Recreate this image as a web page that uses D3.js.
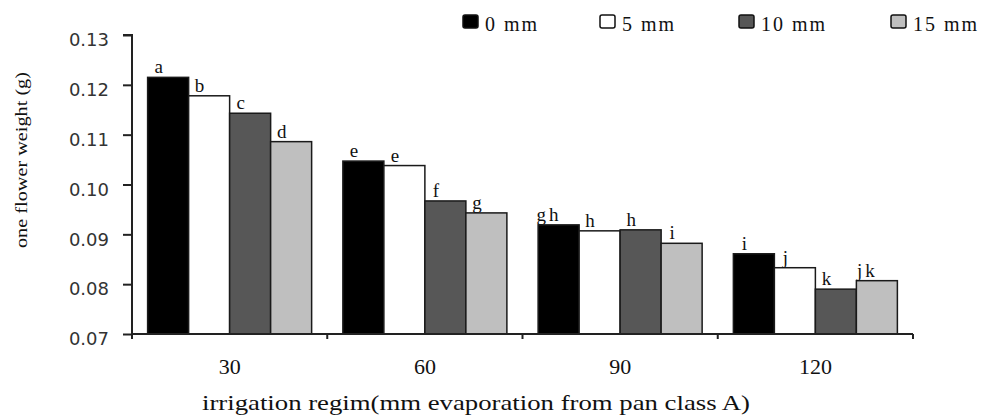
<!DOCTYPE html>
<html>
<head>
<meta charset="utf-8">
<script src="https://cdn.jsdelivr.net/npm/d3@7"></script>
<style>
  body { margin: 0; background: #fff; }
  svg { display: block; }
</style>
</head>
<body>
<svg id="chart" width="984" height="416"></svg>
<script>
// data
const categories = ["30", "60", "90", "120"];
const series = ["0 mm", "5 mm", "10 mm", "15 mm"];
const values0 = [0.1215, 0.1047, 0.0919, 0.0861];
const values5 = [0.1178, 0.1038, 0.0907, 0.0833];
const values10 = [0.1143, 0.0967, 0.0909, 0.0790];
const values15 = [0.1086, 0.0943, 0.0882, 0.0807];
const letters0 = ["a", "e", "gh", "i"];
const letters5 = ["b", "e", "h", "j"];
const letters10 = ["c", "f", "h", "k"];
const letters15 = ["d", "g", "i", "jk"];
const yTicks = [0.07, 0.08, 0.09, 0.10, 0.11, 0.12, 0.13];

const colors = ["#000000", "#ffffff", "#575757", "#bfbfbf"];
const allValues = [values0, values5, values10, values15];
const allLetters = [letters0, letters5, letters10, letters15];

const svg = d3.select("#chart");
const plotL = 132, plotR = 913, plotT = 35, plotB = 334;

const x = d3.scaleBand()
  .domain(categories)
  .range([plotL, plotR])
  .paddingInner(0.16)
  .paddingOuter(0.08);

const xs = d3.scaleBand()
  .domain(series)
  .range([0, x.bandwidth()]);

const y = d3.scaleLinear()
  .domain([0.07, 0.13])
  .range([plotB, plotT]);

// rows: one per bar
const rows = [];
categories.forEach((c, i) => {
  series.forEach((s, j) => {
    rows.push({cat: c, ser: s, j: j, v: allValues[j][i], lab: allLetters[j][i]});
  });
});

// bars
svg.append("g")
  .selectAll("rect")
  .data(rows)
  .join("rect")
    .attr("x", d => x(d.cat) + xs(d.ser))
    .attr("y", d => y(d.v))
    .attr("width", xs.bandwidth())
    .attr("height", d => y(0.07) - y(d.v))
    .attr("fill", d => colors[d.j])
    .attr("stroke", "#1a1a1a")
    .attr("stroke-width", 1.5);

// significance letters
svg.append("g")
  .style("font", "19px 'Liberation Serif', serif")
  .attr("text-anchor", "middle")
  .selectAll("text")
  .data(rows)
  .join("text")
    .attr("x", d => x(d.cat) + xs(d.ser) + 11)
    .attr("y", d => y(d.v) - 4)
    .attr("letter-spacing", d => d.lab.length > 1 ? 3 : 0)
    .attr("fill", "#111")
    .text(d => d.lab);

// y axis
const yAxis = svg.append("g")
  .attr("transform", `translate(${plotL},0)`)
  .call(d3.axisLeft(y)
    .tickValues(yTicks)
    .tickSize(9)
    .tickPadding(14)
    .tickFormat(d3.format(".2f")));
yAxis.select(".domain").attr("stroke", "#222").attr("stroke-width", 2)
  .attr("d", `M-9,${plotT}H0V${plotB + 5}`);
yAxis.selectAll(".tick line").attr("stroke", "#222").attr("stroke-width", 2);
yAxis.selectAll(".tick text")
  .attr("dy", "0.6em")
  .attr("fill", "#333")
  .style("font", "18px 'DejaVu Sans', sans-serif");

// x axis
const xAxis = svg.append("g")
  .attr("transform", `translate(0,${plotB})`)
  .call(d3.axisBottom(x).tickSize(0).tickPadding(24));
xAxis.select(".domain").attr("stroke", "#222").attr("stroke-width", 2)
  .attr("d", `M${plotL},0H${plotR}`);
xAxis.selectAll(".tick text")
  .attr("fill", "#111")
  .style("font", "22px 'Liberation Serif', serif");

// boundary ticks between groups
const bounds = d3.range(categories.length + 1).map(i => plotL + i * x.step());
xAxis.append("g")
  .selectAll("line")
  .data(bounds)
  .join("line")
    .attr("x1", d => d).attr("x2", d => d)
    .attr("y1", 0).attr("y2", 5)
    .attr("stroke", "#222")
    .attr("stroke-width", 2);

// axis titles
svg.append("text")
  .attr("x", 476)
  .attr("y", 410)
  .attr("text-anchor", "middle")
  .attr("textLength", 548)
  .attr("lengthAdjust", "spacingAndGlyphs")
  .attr("fill", "#111")
  .style("font", "22px 'Liberation Serif', serif")
  .text("irrigation regim(mm evaporation from pan class A)");

svg.append("text")
  .attr("transform", "translate(27,160) rotate(-90)")
  .attr("text-anchor", "middle")
  .attr("textLength", 176)
  .attr("lengthAdjust", "spacingAndGlyphs")
  .attr("fill", "#111")
  .style("font", "17px 'Liberation Serif', serif")
  .text("one flower weight (g)");

// legend
const legendX = [463, 600, 739, 891];
const legend = svg.append("g")
  .selectAll("g")
  .data(series)
  .join("g")
    .attr("transform", (d, i) => `translate(${legendX[i]},15)`);
legend.append("rect")
  .attr("width", 15)
  .attr("height", 13)
  .attr("rx", 2)
  .attr("fill", (d, i) => colors[i])
  .attr("stroke", "#111")
  .attr("stroke-width", 1.5);
legend.append("text")
  .attr("x", 22)
  .attr("y", 16)
  .attr("letter-spacing", 2)
  .attr("fill", "#111")
  .style("font", "20px 'Liberation Serif', serif")
  .text(d => d);
</script>
</body>
</html>
